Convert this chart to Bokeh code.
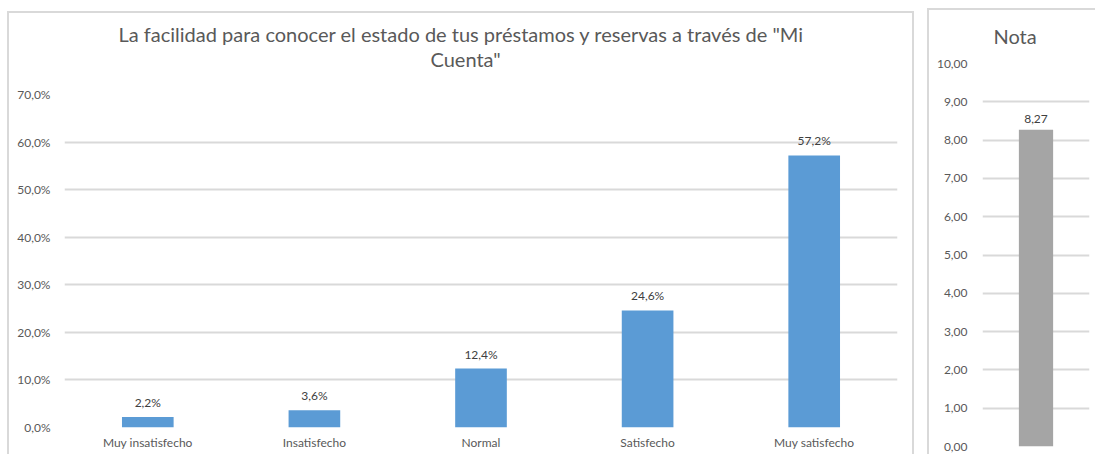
from bokeh.plotting import figure
from bokeh.layouts import row
from bokeh.models import (ColumnDataSource, LabelSet, Title, CustomJSTickFormatter,
                          FixedTicker, Range1d, FactorRange)
from bokeh.core.properties import value
from bokeh.embed import file_html
from bokeh.resources import INLINE

# ---- data ----
categories = ["Muy insatisfecho", "Insatisfecho", "Normal", "Satisfecho", "Muy satisfecho"]
percentages = [2.2, 3.6, 12.4, 24.6, 57.2]
pct_ticks = [0, 10, 20, 30, 40, 50, 60, 70]

nota_category = ["Nota"]
nota_value = [8.27]
nota_ticks = [0, 1, 2, 3, 4, 5, 6, 7, 8, 9, 10]

title_line1 = 'La facilidad para conocer el estado de tus préstamos y reservas a través de "Mi'
title_line2 = 'Cuenta"'
nota_title = "Nota"

FONT = "Lato"
TXT = "#595959"
GRID = "#d9d9d9"
BORDER = "2px solid #d9d9d9"

pct_labels = [f"{v:.1f}".replace(".", ",") + "%" for v in percentages]
nota_labels = [f"{v:.2f}".replace(".", ",") for v in nota_value]

src1 = ColumnDataSource(dict(cat=categories, val=percentages, lbl=pct_labels))
src2 = ColumnDataSource(dict(cat=nota_category, val=nota_value, lbl=nota_labels))


def style_common(p):
    p.outline_line_color = None
    p.xgrid.visible = False
    p.ygrid.grid_line_color = GRID
    p.ygrid.grid_line_width = 2
    for ax in (p.xaxis[0], p.yaxis[0]):
        ax.axis_line_color = None
        ax.major_tick_line_color = None
        ax.minor_tick_line_color = None
        ax.major_tick_out = 0
        ax.major_tick_in = 0
        ax.minor_tick_out = 0
        ax.minor_tick_in = 0
        ax.major_label_text_color = TXT
        ax.major_label_text_font = FONT
        ax.major_label_text_font_size = "12px"


def title(text, offset, standoff, size="20px"):
    return Title(text=text, align="left", offset=offset, standoff=standoff,
                 text_font=FONT, text_font_size=size,
                 text_font_style="normal", text_color=TXT)


# ---- left chart ----
p1 = figure(x_range=FactorRange(*categories, range_padding=0), y_range=Range1d(0, 70),
            width=907, height=443, output_backend="svg", toolbar_location=None,
            min_border_left=55, min_border_right=19, min_border_top=81, min_border_bottom=29,
            frame_align=False)
p1.vbar(x="cat", top="val", width=0.31, source=src1, fill_color="#5b9bd5", line_color=None)
style_common(p1)
p1.yaxis.ticker = FixedTicker(ticks=pct_ticks)
p1.yaxis.formatter = CustomJSTickFormatter(code="return tick.toFixed(1).replace('.', ',') + '%';")
p1.yaxis.major_label_standoff = 14
p1.xaxis.major_label_standoff = 7
p1.add_layout(LabelSet(x="cat", y="val", text="lbl", source=src1, text_align="center",
                       text_baseline="bottom", y_offset=7, text_font=value(FONT),
                       text_font_size="12px", text_color="#404040"))
# titles stack upward from the frame: spacer, second line, first line
p1.add_layout(title(" ", 0, 11, size="10px"), "above")
p1.add_layout(title(title_line2, 366, -2), "above")
p1.add_layout(title(title_line1, 54, 0), "above")
p1.styles = {"border-top": BORDER, "border-left": BORDER, "border-right": BORDER}
p1.margin = (11, 0, 0, 7)

# ---- right chart ----
p2 = figure(x_range=FactorRange(*nota_category, range_padding=0), y_range=Range1d(0, 10),
            width=168, height=446, output_backend="svg", toolbar_location=None,
            min_border_left=53, min_border_right=8, min_border_top=53, min_border_bottom=10,
            frame_align=False)
p2.vbar(x="cat", top="val", width=0.32, source=src2, fill_color="#a5a5a5", line_color=None)
style_common(p2)
p2.xaxis.visible = False
p2.yaxis.ticker = FixedTicker(ticks=nota_ticks)
p2.yaxis.formatter = CustomJSTickFormatter(code="return tick.toFixed(2).replace('.', ',');")
p2.yaxis.major_label_standoff = 15
p2.add_layout(LabelSet(x="cat", y="val", text="lbl", source=src2, text_align="center",
                       text_baseline="bottom", y_offset=7, text_font=value(FONT),
                       text_font_size="12px", text_color="#404040"))
p2.add_layout(title(" ", 0, 3, size="10px"), "above")
p2.add_layout(title(nota_title, 11, -2), "above")
p2.styles = {"border-top": BORDER, "border-left": BORDER}
p2.margin = (8, 0, 0, 13)

layout = row(p1, p2, spacing=0)
open("out.html", "w").write(file_html(layout, INLINE))
